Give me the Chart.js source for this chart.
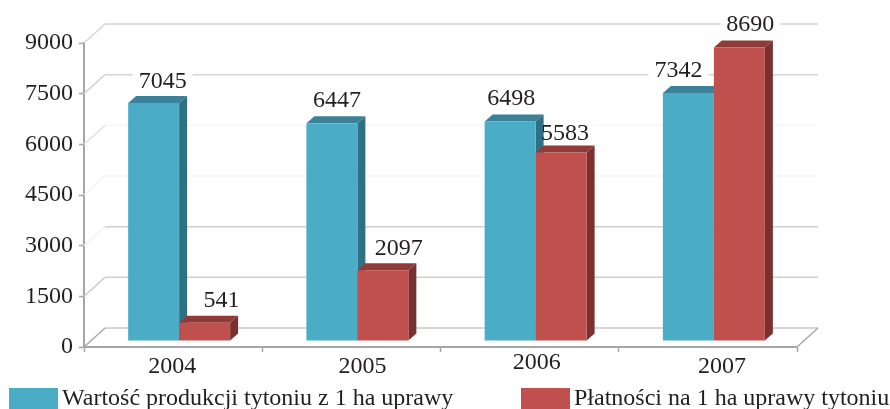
<!DOCTYPE html>
<html>
<head>
<meta charset="utf-8">
<script src="https://cdn.jsdelivr.net/npm/chart.js@4"></script>
<style>
  html, body { margin: 0; padding: 0; background: #fff; }
  canvas { display: block; }
</style>
</head>
<body>
<canvas id="tobaccoChart" width="890" height="409"></canvas>
<script>
// values
const years = ['2004', '2005', '2006', '2007'];
const productionValues = [7045, 6447, 6498, 7342];
const paymentValues = [541, 2097, 5583, 8690];
const productionLabel = 'Wartość produkcji tytoniu z 1 ha uprawy';
const paymentLabel = 'Płatności na 1 ha uprawy tytoniu';
const yStep = 1500;
const yMax = 9000;

// look
const serif = '"Liberation Serif", "Times New Roman", serif';
const fontSize = 24;
const textColor = '#231f20';
const axisColor = '#a6a6a6';
const blue = {front: '#4bacc6', top: '#3b8298', side: '#2f7084'};
const red = {front: '#c0504d', top: '#8f3b38', side: '#7a302e'};
// wall gridline colours from 0 up to 9000, some are nearly gone in the scan
const wallColors = ['#c8c8c8', '#cfcfcf', '#cfcfcf', '#f6f6f6', '#f6f6f6', '#d4d4d4', '#d4d4d4'];
const sideColors = ['#a8a8a8', '#cfcfcf', '#f4f4f4', '#f2f2f2', '#e4e4e4', '#d4d4d4', '#d4d4d4'];
const wallDx = 21, wallDy = -19;
const barShiftX = 6, barShiftY = -6;
const depthX = 8, depthY = -7;
// hand placement of the value labels, the original has them wherever they fit
const productionNudge = [[9, -21], [5, -23], [1, -23], [-10, -22]];
const paymentNudge = [[17, -22], [16, -21], [4, -19], [11, -23]];
const yearNudge = [-1, 11, 7, 14];
const yearRows = [367, 367, 363, 367];

function eachBar(chart, fn) {
  chart.getDatasetMeta(0).data.forEach((bar, i) => fn(bar, productionNudge[i], productionValues[i]));
  chart.getDatasetMeta(1).data.forEach((bar, i) => fn(bar, paymentNudge[i], paymentValues[i]));
}

function drawWall(chart) {
  const ctx = chart.ctx, y = chart.scales.y, area = chart.chartArea;
  ctx.save();
  ctx.lineWidth = 1.5;
  y.ticks.forEach((tick, i) => {
    const py = y.getPixelForValue(tick.value);
    ctx.strokeStyle = sideColors[i];
    ctx.beginPath();
    ctx.moveTo(area.left, py);
    ctx.lineTo(area.left + wallDx, py + wallDy);
    ctx.stroke();
    ctx.strokeStyle = wallColors[i];
    ctx.beginPath();
    ctx.moveTo(area.left + wallDx, py + wallDy);
    ctx.lineTo(area.right + wallDx, py + wallDy);
    ctx.stroke();
  });
  // right edge of the floor
  ctx.strokeStyle = '#a8a8a8';
  ctx.beginPath();
  ctx.moveTo(area.right, area.bottom);
  ctx.lineTo(area.right + wallDx, area.bottom + wallDy);
  ctx.stroke();
  // white patches where a value label sits on a gridline
  ctx.fillStyle = '#fff';
  eachBar(chart, (bar, nudge) => {
    ctx.fillRect(bar.x + barShiftX + nudge[0] - 30, bar.y + barShiftY + nudge[1] - 11, 60, 22);
  });
  ctx.restore();
}

function drawDepth(ctx, meta, colors) {
  meta.data.forEach(bar => {
    const left = bar.x - bar.width / 2, right = bar.x + bar.width / 2;
    ctx.fillStyle = colors.top;
    ctx.beginPath();
    ctx.moveTo(left, bar.y);
    ctx.lineTo(left + depthX, bar.y + depthY);
    ctx.lineTo(right + depthX, bar.y + depthY);
    ctx.lineTo(right, bar.y);
    ctx.closePath();
    ctx.fill();
    ctx.fillStyle = colors.side;
    ctx.beginPath();
    ctx.moveTo(right, bar.y);
    ctx.lineTo(right + depthX, bar.y + depthY);
    ctx.lineTo(right + depthX, bar.base + depthY);
    ctx.lineTo(right, bar.base);
    ctx.closePath();
    ctx.fill();
  });
}

function drawTexts(chart) {
  const ctx = chart.ctx;
  ctx.save();
  ctx.font = fontSize + 'px ' + serif;
  ctx.fillStyle = textColor;
  ctx.textAlign = 'center';
  ctx.textBaseline = 'middle';
  eachBar(chart, (bar, nudge, value) => {
    ctx.fillText(String(value), bar.x + barShiftX + nudge[0], bar.y + barShiftY + nudge[1]);
  });
  // year labels
  const x = chart.scales.x;
  years.forEach((year, i) => {
    ctx.fillText(year, x.getPixelForValue(i) + yearNudge[i], yearRows[i]);
  });
  // legend
  ctx.textAlign = 'left';
  ctx.textBaseline = 'alphabetic';
  ctx.fillStyle = blue.front;
  ctx.fillRect(9, 388, 49, 21);
  ctx.fillStyle = red.front;
  ctx.fillRect(521, 388, 49, 21);
  ctx.fillStyle = textColor;
  ctx.fillText(chart.data.datasets[0].label, 62, 405);
  ctx.fillText(chart.data.datasets[1].label, 574, 405);
  ctx.restore();
}

const fakeDepthPlugin = {
  id: 'fakeDepth',
  beforeDatasetsDraw(chart) {
    const ctx = chart.ctx;
    drawWall(chart);
    // blue first so the red bars cover its side face, chart.js would do it the other way round
    ctx.save();
    ctx.translate(barShiftX, barShiftY);
    [[0, blue], [1, red]].forEach(([index, colors]) => {
      const meta = chart.getDatasetMeta(index);
      drawDepth(ctx, meta, colors);
      meta.controller.draw();
    });
    ctx.restore();
    drawTexts(chart);
    return false;
  }
};

new Chart(document.getElementById('tobaccoChart').getContext('2d'), {
  type: 'bar',
  plugins: [fakeDepthPlugin],
  data: {
    labels: years,
    datasets: [
      {label: productionLabel, data: productionValues, backgroundColor: blue.front},
      {label: paymentLabel, data: paymentValues, backgroundColor: red.front}
    ]
  },
  options: {
    responsive: false,
    animation: false,
    events: [],
    layout: {padding: {top: 43, right: 93, left: 0, bottom: 0}},
    datasets: {bar: {barPercentage: 1, categoryPercentage: 0.572, borderWidth: 0}},
    plugins: {legend: {display: false}, tooltip: {enabled: false}},
    scales: {
      x: {
        afterFit(scale) { scale.height = 62; },
        border: {color: axisColor, width: 2},
        grid: {offset: true, drawOnChartArea: false, tickLength: 5, tickColor: axisColor, tickWidth: 1.5},
        ticks: {display: false}
      },
      y: {
        min: 0,
        max: yMax,
        afterFit(scale) { scale.width = 84; },
        border: {color: axisColor, width: 2},
        grid: {drawOnChartArea: false, tickLength: 5, tickColor: axisColor, tickWidth: 1.5},
        ticks: {
          stepSize: yStep,
          padding: 6,
          color: textColor,
          font: {family: serif, size: fontSize},
          callback: value => String(value)
        }
      }
    }
  }
});
</script>
</body>
</html>
